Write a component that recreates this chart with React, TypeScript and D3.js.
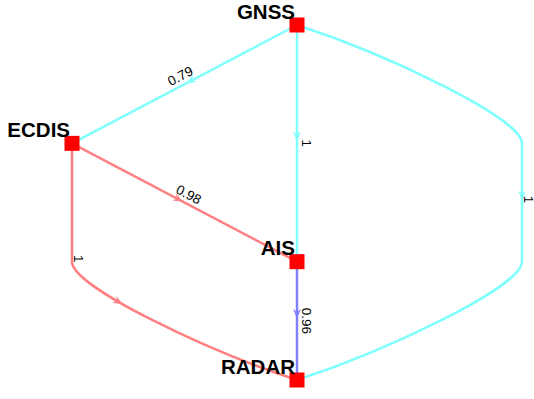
import React, { useEffect, useRef } from "react";
import * as d3 from "d3";

// Network nodes and their layout slots (column, rank)
const nodeNames = ["GNSS", "ECDIS", "AIS", "RADAR"];
const nodeCol = [1, 0, 1, 1];
const nodeRank = [0, 1, 2, 3];

// Edge colour follows the source node
const sourceNames = ["GNSS", "ECDIS", "AIS"];
const sourceColors = ["#80FFFF", "#FF8080", "#8080FF"];

// Directed arcs with their strengths; detour column for arcs routed around nodes
const edgeFrom = ["GNSS", "GNSS", "GNSS", "ECDIS", "ECDIS", "AIS"];
const edgeTo = ["ECDIS", "AIS", "RADAR", "AIS", "RADAR", "RADAR"];
const edgeStrength = [0.79, 1, 1, 0.98, 1, 0.96];
const edgeDetourCol: (number | null)[] = [null, null, 2, null, 0, null];

const W = 534;
const H = 399;

export default function App() {
  const ref = useRef<SVGSVGElement | null>(null);

  useEffect(() => {
    const svg = d3.select(ref.current);
    svg.selectAll("*").remove();

    const x = d3.scaleLinear().domain([0, 2]).range([72, 522]);
    const y = d3.scaleLinear().domain([0, 3]).range([25, 380]);
    const color = d3.scaleOrdinal<string, string>().domain(sourceNames).range(sourceColors);

    const idx = (n: string) => nodeNames.indexOf(n);
    const pos = (n: string) => ({ x: x(nodeCol[idx(n)]), y: y(nodeRank[idx(n)]) });

    const bend = 95;
    const ease = 25;
    const th = (18 * Math.PI) / 180;

    const route = (i: number) => {
      const s = pos(edgeFrom[i]);
      const t = pos(edgeTo[i]);
      const p = d3.path();
      p.moveTo(s.x, s.y);
      const c = edgeDetourCol[i];
      if (c == null) {
        p.lineTo(t.x, t.y);
        return p.toString();
      }
      const X = x(c);
      const rs = nodeRank[idx(edgeFrom[i])];
      const rt = nodeRank[idx(edgeTo[i])];
      if (s.x !== X) {
        const d = Math.sign(X - s.x);
        const e1 = y(rs + 1);
        p.bezierCurveTo(s.x + d * bend * Math.cos(th), s.y + bend * Math.sin(th), X, e1 - ease, X, e1);
      }
      if (t.x !== X) {
        const d = Math.sign(X - t.x);
        const e2 = y(rt - 1);
        p.lineTo(X, e2);
        p.bezierCurveTo(X, e2 + ease, t.x + d * bend * Math.cos(th), t.y - bend * Math.sin(th), t.x, t.y);
      } else {
        p.lineTo(t.x, t.y);
      }
      return p.toString();
    };

    const gEdges = svg.append("g");
    const gArrows = svg.append("g");
    const gLabels = svg.append("g");

    edgeFrom.forEach((from, i) => {
      const col = color(from);
      const path = gEdges
        .append("path")
        .attr("d", route(i))
        .attr("fill", "none")
        .attr("stroke", col)
        .attr("stroke-width", 2.5);

      const node = path.node() as SVGPathElement;
      const L = node.getTotalLength();
      const tip = node.getPointAtLength(L / 2 - 2);
      const back = node.getPointAtLength(L / 2 - 6);
      const ang = (Math.atan2(tip.y - back.y, tip.x - back.x) * 180) / Math.PI;
      gArrows
        .append("path")
        .attr("d", "M0,0 L-10,-4 L-6.5,0 L-10,4 Z")
        .attr("fill", col)
        .attr("transform", `translate(${tip.x},${tip.y}) rotate(${ang})`);

      // label placement
      const s = pos(from);
      const t = pos(edgeTo[i]);
      let lx: number, ly: number, la: number;
      const c = edgeDetourCol[i];
      if (c == null) {
        const dx = t.x - s.x;
        const dy = t.y - s.y;
        let a = Math.atan2(dy, dx);
        if (a > Math.PI / 2) a -= Math.PI;
        if (a <= -Math.PI / 2) a += Math.PI;
        const mx = (s.x + t.x) / 2;
        const my = (s.y + t.y) / 2;
        lx = mx + 9 * Math.sin(a);
        ly = my - 9 * Math.cos(a);
        la = (a * 180) / Math.PI;
      } else {
        const rs = nodeRank[idx(from)];
        const rt = nodeRank[idx(edgeTo[i])];
        lx = x(c) + 6;
        ly = y((rs + rt) / 2) - 3;
        la = 90;
      }
      gLabels
        .append("text")
        .attr("transform", `translate(${lx},${ly}) rotate(${la})`)
        .attr("text-anchor", "middle")
        .attr("dominant-baseline", "central")
        .attr("font-family", "'Liberation Sans', Arial, sans-serif")
        .attr("font-size", 13.5)
        .attr("fill", "#000")
        .text(String(edgeStrength[i]));
    });

    const gNodes = svg.append("g");
    nodeNames.forEach((n) => {
      const p = pos(n);
      gNodes
        .append("rect")
        .attr("x", p.x - 7.5)
        .attr("y", p.y - 7.5)
        .attr("width", 15)
        .attr("height", 15)
        .attr("fill", "#FF0000");
      gNodes
        .append("text")
        .attr("x", p.x - 2)
        .attr("y", p.y - 6.5)
        .attr("text-anchor", "end")
        .attr("font-family", "'Liberation Sans', Arial, sans-serif")
        .attr("font-weight", "bold")
        .attr("font-size", 20.5)
        .attr("fill", "#000")
        .text(n);
    });
  }, []);

  return (
    <svg
      ref={ref}
      width={W}
      height={H}
      style={{ position: "fixed", left: 0, top: 0, background: "#fff", display: "block" }}
    />
  );
}
